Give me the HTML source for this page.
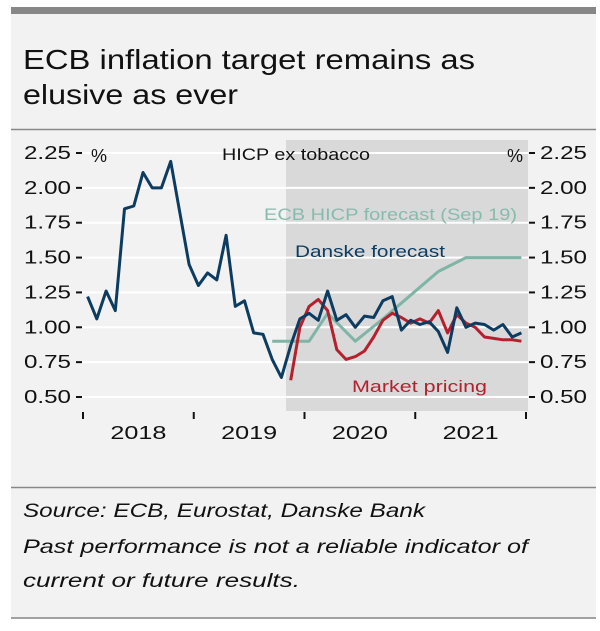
<!DOCTYPE html>
<html><head><meta charset="utf-8"><style>
html,body{margin:0;padding:0;background:#fff;}
body{width:600px;height:626px;overflow:hidden;font-family:"Liberation Sans",sans-serif;}
</style></head><body>
<svg id="chart" width="600" height="626" viewBox="0 0 600 626" xmlns="http://www.w3.org/2000/svg">
<rect x="11" y="7" width="585" height="612" fill="#f2f2f2"/>
<rect x="11" y="7" width="585" height="7" fill="#878787"/>
<text x="23" y="69" font-size="28" fill="#111" textLength="452" lengthAdjust="spacingAndGlyphs">ECB inflation target remains as</text>
<text x="23" y="104" font-size="28" fill="#111" textLength="215" lengthAdjust="spacingAndGlyphs">elusive as ever</text>
<line x1="11" y1="129.5" x2="596" y2="129.5" stroke="#888" stroke-width="1.5"/>
<rect x="286" y="140" width="242" height="271" fill="#d9d9d9"/>
<g id="grid"></g>
<g id="axes"></g>
<g id="series"></g>
<text x="222" y="160" font-size="17" fill="#111" textLength="148" lengthAdjust="spacingAndGlyphs">HICP ex tobacco</text>
<text x="91" y="162" font-size="18" fill="#111">%</text>
<text x="507" y="162" font-size="18" fill="#111">%</text>
<text x="264" y="220" font-size="17" fill="#86bcad" textLength="253" lengthAdjust="spacingAndGlyphs">ECB HICP forecast (Sep 19)</text>
<text x="295" y="257" font-size="17" fill="#0d3c61" textLength="150" lengthAdjust="spacingAndGlyphs">Danske forecast</text>
<text x="352" y="392" font-size="17" fill="#b5202e" textLength="135" lengthAdjust="spacingAndGlyphs">Market pricing</text>
<line x1="11" y1="487.5" x2="596" y2="487.5" stroke="#888" stroke-width="1.5"/>
<text x="23" y="517" font-size="19" font-style="italic" fill="#111" textLength="402" lengthAdjust="spacingAndGlyphs">Source: ECB, Eurostat, Danske Bank</text>
<text x="23" y="553" font-size="19" font-style="italic" fill="#111" textLength="505" lengthAdjust="spacingAndGlyphs">Past performance is not a reliable indicator of</text>
<text x="23" y="587" font-size="19" font-style="italic" fill="#111" textLength="277" lengthAdjust="spacingAndGlyphs">current or future results.</text>
<line x1="11" y1="618" x2="596" y2="618" stroke="#888" stroke-width="1.5"/>
</svg>
<script>
const yTicks = [0.5, 0.75, 1.0, 1.25, 1.5, 1.75, 2.0, 2.25];
const yearLabels = ["2018", "2019", "2020", "2021"];
const danske = [1.22,1.06,1.26,1.12,1.85,1.87,2.11,2.00,2.00,2.19,1.82,1.45,
  1.30,1.39,1.34,1.66,1.15,1.19,0.96,0.95,0.77,0.64,0.87,1.06,
  1.10,1.05,1.26,1.05,1.09,1.00,1.08,1.07,1.19,1.22,0.98,1.05,
  1.02,1.04,0.97,0.82,1.14,1.00,1.03,1.02,0.98,1.02,0.93,0.96];
const marketIdx = [22,23,24,25,26,27,28,29,30,31,32,33,34,35,36,37,38,39,40,41,42,43,44,45,46,47];
const market = [0.62,1.00,1.15,1.20,1.12,0.84,0.77,0.79,0.83,0.93,1.05,1.10,1.07,1.03,1.06,1.03,1.12,0.96,1.09,1.03,1.00,0.93,0.92,0.91,0.91,0.90];
const ecbIdx = [20,24,26,29,32,35,38,41,44,47];
const ecb = [0.90,0.90,1.10,0.90,1.06,1.23,1.40,1.50,1.50,1.50];

const NS = "http://www.w3.org/2000/svg";
const x = m => 83 + (m + 0.5) * 110.75 / 12;
const y = v => 397 - (v - 0.5) * 139.43;
function mk(tag, attrs, parent, text) {
  const el = document.createElementNS(NS, tag);
  for (const k in attrs) el.setAttribute(k, attrs[k]);
  if (text !== undefined) el.textContent = text;
  document.getElementById(parent).appendChild(el);
  return el;
}
yTicks.forEach(v => {
  const g = mk("line", {x1: 82, x2: 528, y1: y(v), y2: y(v), stroke: "#fff", "stroke-width": 2}, "grid");
  
  
  const tl = mk("line", {x1: 76, x2: 82, y1: y(v), y2: y(v), stroke: "#111", "stroke-width": 2}, "axes");
  
  
  const tr = mk("line", {x1: 529, x2: 535, y1: y(v), y2: y(v), stroke: "#111", "stroke-width": 2}, "axes");
  
  
  const ll = mk("text", {x: 71, y: y(v) + 6, "font-size": 18, "text-anchor": "end", fill: "#111", textLength: 47, lengthAdjust: "spacingAndGlyphs"}, "axes", v.toFixed(2));
  
  
  const rl = mk("text", {x: 540, y: y(v) + 6, "font-size": 18, fill: "#111", textLength: 47, lengthAdjust: "spacingAndGlyphs"}, "axes", v.toFixed(2));
  
  
});
for (let i = 0; i <= yearLabels.length; i++) {
  const xx = 83 + i * 110.75;
  const t = mk("line", {x1: xx, x2: xx, y1: 412, y2: 419, stroke: "#111", "stroke-width": 2}, "axes");
  
  
}
yearLabels.forEach((lab, i) => {
  const t = mk("text", {x: 83 + (i + 0.5) * 110.75, y: 439, "font-size": 18, "text-anchor": "middle", fill: "#111", textLength: 56, lengthAdjust: "spacingAndGlyphs"}, "axes", lab);
  
  
});
function line(idx, vals, color, name) {
  const d = vals.map((v, i) => (i ? "L" : "M") + x(idx[i]).toFixed(1) + " " + y(v).toFixed(1)).join(" ");
  const p = mk("path", {d: d, fill: "none", stroke: color, "stroke-width": 3, "stroke-linejoin": "round"}, "series");
  
  
}
line(ecbIdx, ecb, "#7fb5a6", "ecb-forecast-line");
line(marketIdx, market, "#b5202e", "market-pricing-line");
line(danske.map((_, i) => i), danske, "#0d3c61", "danske-hicp-line");
</script>
</body></html>
